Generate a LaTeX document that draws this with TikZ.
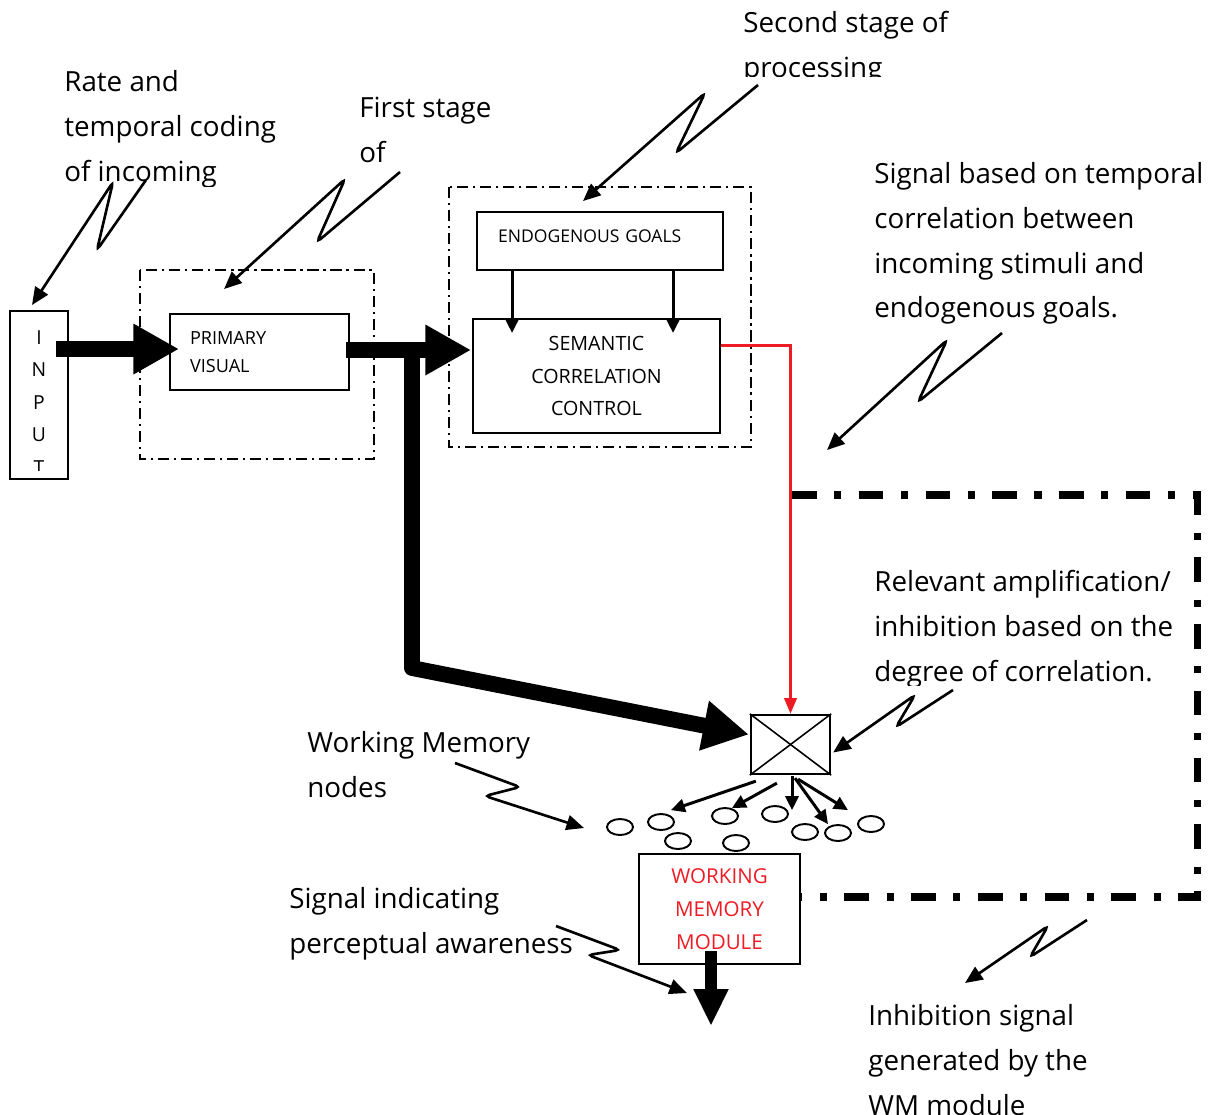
\documentclass[tikz,border=0pt]{standalone}
\usepackage{fontspec}
\setmainfont{Open Sans}
\usetikzlibrary{arrows.meta, positioning, calc, shapes.geometric}
\definecolor{wmred}{RGB}{237, 28, 36}
\def\px{0.02cm}

\tikzset{
  note/.style={anchor=north west, align=left, inner sep=0pt, font=\fontsize{15.8}{25.5}\selectfont},
  block/.style={draw, line width=1.1pt, inner sep=0pt},
  stagebox/.style={line width=1.4pt, dash pattern=on 6.3pt off 2.8pt on 1.2pt off 2.8pt},
  wmloop/.style={line width=4pt, dash pattern=on 14pt off 10pt on 4pt off 10pt},
  bigflow/.style={line width=9pt, line join=round, -{Triangle[length=26pt,width=27pt]}},
  outflow/.style={line width=7pt, -{Triangle[length=21pt,width=18.5pt]}},
  redflow/.style={wmred, line width=1.7pt, -{Triangle[length=9pt,width=7pt]}},
  smallflow/.style={line width=1.7pt, -{Triangle[length=8pt,width=7.5pt]}},
  callout/.style={line width=1.5pt, rounded corners=2.5pt, -{Triangle[length=10pt,width=8.5pt]}},
  wmnode/.style={draw, ellipse, line width=1.1pt, minimum width=26*\px, minimum height=16*\px, inner sep=0pt},
}

\begin{document}
\begin{tikzpicture}[x=0.02cm, y=-0.02cm]
  \useasboundingbox (0,0) rectangle (1210,1115);

  % Input
  \node[block, minimum width=58*\px, minimum height=168*\px] (input) at (39,395) {};
  \begin{scope}
    \clip (10,311) rectangle (68,470);
    \node[anchor=north, inner sep=0pt, align=center, font=\fontsize{11}{18.5}\selectfont] (inputtext) at (39,330) {I\\N\\P\\U\\T};
  \end{scope}

  % First stage
  \draw[stagebox] (140,270) rectangle (374,459);
  \node[block, minimum width=179*\px, minimum height=76*\px, text width=139*\px, align=left,
        font=\fontsize{10.3}{15.9}\selectfont] (primary) at (259.5,352) {PRIMARY\\VISUAL};

  % Second stage
  \draw[stagebox] (449,187) rectangle (751,447);
  \node[block, minimum width=246*\px, minimum height=58*\px, text width=204*\px, text depth=5.7pt, align=left,
        font=\fontsize{10}{16}\selectfont] (goals) at (600,241) {ENDOGENOUS GOALS};
  \node[block, minimum width=247*\px, minimum height=114*\px, align=center,
        font=\fontsize{11.2}{18.7}\selectfont] (semantic) at (596.5,376) {SEMANTIC\\CORRELATION\\CONTROL};
  \draw[smallflow] ($(goals.south west)+(36,0)$) -- ++(0,62);
  \draw[smallflow] ($(goals.south west)+(197,0)$) -- ++(0,62);

  % Correlation gate and working memory
  \node[block, line width=1.3pt, minimum width=79*\px, minimum height=59*\px] (cross) at (790.5,744.5) {};
  \draw[line width=0.9pt] (cross.north west) -- (cross.south east);
  \draw[line width=0.9pt] (cross.north east) -- (cross.south west);
  \foreach \i/\x/\y in {1/620/827, 2/661/822, 3/678/841, 4/725/816, 5/736/843,
                        6/775/814, 7/805/832, 8/838/833, 9/871/824}
    \node[wmnode] (n\i) at (\x,\y) {};
  \node[block, minimum width=161*\px, minimum height=110*\px, align=center, text=wmred,
        font=\fontsize{11.7}{18.7}\selectfont] (wm) at (719.5,909) {WORKING\\MEMORY\\MODULE};

  % Main flow
  \coordinate (in1) at ($(input.north east)+(-13,39)$);
  \coordinate (out1) at ($(primary.east)+(-4,-2)$);
  \coordinate (split) at ($(out1)+(66,0)$);
  \draw[bigflow] (in1) -- ($(in1 -| primary.west)+(10,0)$);
  \draw[bigflow] (out1) -- ($(out1 -| semantic.west)+(-1,0)$);
  \draw[bigflow] (split) -- ++(0,318) -- ($(cross.west)+(-1,-10)$);
  \draw[redflow] ($(semantic.north east)+(0,27)$) -| (cross.north);
  \draw[outflow] ($(wm.south)+(-8.5,-14)$) -- ++(0,75);

  % Amplification / inhibition onto the nodes
  \draw[smallflow] ($(cross.south west)+(6,6)$) -- ++(-85,29);
  \draw[smallflow] ($(cross.south west)+(27,8)$) -- ++(-45,25);
  \draw[smallflow] ($(cross.south)+(1.5,1)$) -- ++(0,34);
  \draw[smallflow] ($(cross.south)+(4.5,3)$) -- ++(33,46);
  \draw[smallflow] ($(cross.south)+(7.5,4)$) -- ++(50,31);

  % Inhibition loop
  \coordinate (loopstart) at (792,495);
  \draw[wmloop] (loopstart) -- (1197,495) -- (1197,897) -- ($(wm.east)+(0,-12)$);

  % Notes
  \begin{scope}
    \clip (60,50) rectangle (300,186);
    \node[note] (rate) at (64,70) {Rate and\\temporal coding\\of incoming};
  \end{scope}
  \node[note] (first) at (359,97) {First stage\\of};
  \begin{scope}
    \clip (740,0) rectangle (960,77);
    \node[note] (second) at (743,11) {Second stage of\\processing};
  \end{scope}
  \node[note] (sigcorr) at (874,162) {Signal based on temporal\\correlation between\\incoming stimuli and\\endogenous goals.};
  \begin{scope}
    \clip (870,550) rectangle (1188,685);
    \node[note] (relevant) at (874,570) {Relevant amplification/\\inhibition based on the\\degree of correlation.};
  \end{scope}
  \node[note] (wmnodes) at (307,731) {Working Memory\\nodes};
  \node[note] (percept) at (289,887) {Signal indicating\\perceptual awareness};
  \node[note] (inhib) at (868,1004) {Inhibition signal\\generated by the\\WM module};

  % Callouts
  \draw[callout] (146,180) -- (97,250) -- (113,182) -- ($(input.north)+(-7,-5)$);
  \draw[callout] (400,172) -- (317,242) -- (345,179) -- ($(primary.north west)+(55,-24)$);
  \draw[callout] (758,85) -- (676,153) -- (705,93) -- ($(goals.north)+(-17,-10)$);
  \draw[callout] (1002,333) -- (918,402) -- (947,340) -- (827,450);
  \draw[callout] (953,690) -- (896,727) -- (915,695) -- ($(cross.east)+(2,8)$);
  \draw[callout] (1087,920) -- (1030,957) -- (1048,926) -- (965,983);
  \draw[callout] (455,763) -- (520,787) -- (485,796) -- ($(n1.west)+(-22,1)$);
  \draw[callout] (556,926) -- (620,950) -- (588,955) -- (687,993);

\end{tikzpicture}
\end{document}
